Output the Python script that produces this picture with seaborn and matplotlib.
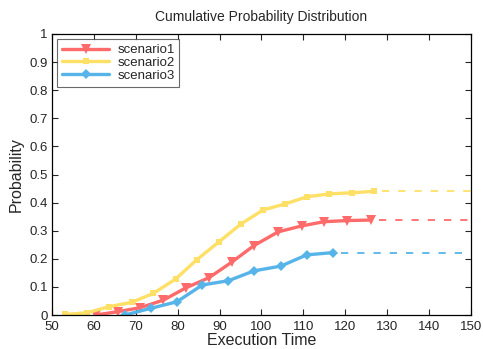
import matplotlib
matplotlib.use('Agg')
import matplotlib.pyplot as plt
import seaborn as sns
import pandas as pd
import numpy as np

# data
s1_x = [60.4, 65.8, 71.0, 76.6, 82.0, 87.5, 92.9, 98.2, 104.0, 109.6, 114.9, 120.3, 126.1]
s1_y = [0.0, 0.012, 0.026, 0.053, 0.097, 0.133, 0.188, 0.247, 0.296, 0.317, 0.332, 0.336, 0.338]
s2_x = [53.1, 58.4, 63.7, 69.0, 74.2, 79.5, 84.5, 89.9, 95.1, 100.4, 105.6, 110.9, 116.2, 121.5, 126.8]
s2_y = [0.002, 0.008, 0.030, 0.045, 0.077, 0.128, 0.196, 0.261, 0.324, 0.374, 0.395, 0.421, 0.431, 0.435, 0.440]
s3_x = [67.4, 73.6, 79.8, 85.9, 92.1, 98.2, 104.6, 110.8, 117.0]
s3_y = [0.0, 0.024, 0.047, 0.107, 0.122, 0.157, 0.174, 0.214, 0.222]
names = ['scenario1', 'scenario2', 'scenario3']
colors = ['#FF6B6B', '#FFE066', '#56B4E9']
markers = ['v', 's', 'D']
msizes = [7.5, 4.5, 5.5]
x_end = 150

series = [(s1_x, s1_y), (s2_x, s2_y), (s3_x, s3_y)]
df = pd.concat([pd.DataFrame({'Execution Time': x, 'Probability': y, 'scenario': n})
                for (x, y), n in zip(series, names)], ignore_index=True)
# flat tail after the last sample
tail = pd.concat([pd.DataFrame({'Execution Time': [x[-1] + 2, x_end], 'Probability': [y[-1], y[-1]], 'scenario': n})
                  for (x, y), n in zip(series, names)], ignore_index=True)

sns.set_style('white')
plt.rcParams['font.family'] = ['Liberation Sans', 'DejaVu Sans']

fig = plt.figure(figsize=(4.83, 3.49), dpi=100)
ax = fig.add_axes([0.1077, 0.0974, 0.975 - 0.1077, 0.9026 - 0.0974])

sns.lineplot(data=df, x='Execution Time', y='Probability', hue='scenario', style='scenario',
             palette=colors, markers=markers, dashes=False, linewidth=2.4, markersize=6,
             markeredgewidth=0, ax=ax, sort=False)
for line, ms in zip(ax.lines, msizes):
    line.set_markersize(ms)
sns.lineplot(data=tail, x='Execution Time', y='Probability', hue='scenario', palette=colors,
             linewidth=1.3, ax=ax, legend=False, sort=False, dashes=False, linestyle=(0, (4, 5)))

ax.set_xlim(50, 150)
ax.set_ylim(0, 1)
ax.set_xticks(np.arange(50, 151, 10))
ax.set_yticks(np.arange(0, 1.01, 0.1))
ax.set_yticklabels(['0', '0.1', '0.2', '0.3', '0.4', '0.5', '0.6', '0.7', '0.8', '0.9', '1'])
ax.tick_params(direction='in', length=4, width=0.8, labelsize=9.5, top=True, right=True,
               bottom=True, left=True, pad=3)
ax.tick_params(axis='x', pad=4)
for sp in ax.spines.values():
    sp.set_color('black')
    sp.set_linewidth(0.9)
ax.set_xlabel('Execution Time', fontsize=11.5, labelpad=0)
ax.set_ylabel('Probability', fontsize=11.5, labelpad=4)
ax.set_title('Cumulative Probability Distribution', fontsize=10, pad=9)

leg = ax.legend(loc='upper left', fontsize=9.5, frameon=True, fancybox=False, borderpad=0.35,
                handlelength=3.6, handletextpad=0.6, labelspacing=0.05, borderaxespad=0.4)
leg.get_frame().set_edgecolor('#444444')
leg.get_frame().set_linewidth(0.8)
leg.set_title(None)
for h, ms in zip(leg.legend_handles, msizes):
    h.set_markersize(ms)

fig.savefig('out.png', dpi=100)
